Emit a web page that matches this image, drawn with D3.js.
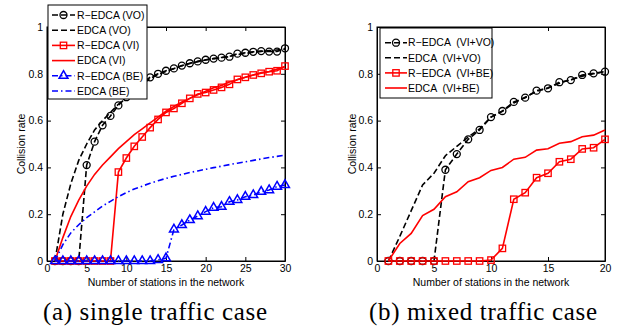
<!DOCTYPE html>
<html>
<head>
<meta charset="utf-8">
<script src="https://cdn.jsdelivr.net/npm/d3@7"></script>
<style>
body { margin: 0; background: #fff; }
svg text { font-family: "Liberation Sans", Arial, sans-serif; }
svg text.caption { font-family: "Liberation Serif", "DejaVu Serif", serif; }
</style>
</head>
<body>
<svg id="chart" width="627" height="332"></svg>
<script>
// ---- data ----
const stationsA = [1, 2, 3, 4, 5, 6, 7, 8, 9, 10, 11, 12, 13, 14, 15, 16, 17, 18, 19, 20, 21, 22, 23, 24, 25, 26, 27, 28, 29, 30];
const stationsB = [1, 2, 3, 4, 5, 6, 7, 8, 9, 10, 11, 12, 13, 14, 15, 16, 17, 18, 19, 20];

// (a) single traffic case
const rEdcaVO = [0, 0, 0, 0, 0.41, 0.51, 0.58, 0.62, 0.665, 0.70, 0.735, 0.76, 0.785, 0.80, 0.813, 0.823, 0.835, 0.845, 0.853, 0.86, 0.865, 0.869, 0.873, 0.886, 0.89, 0.894, 0.897, 0.895, 0.895, 0.909];
const edcaVO = [0, 0.2, 0.33, 0.43, 0.5, 0.56, 0.6, 0.635, 0.67, 0.70, 0.73, 0.755, 0.78, 0.797, 0.81, 0.822, 0.834, 0.844, 0.852, 0.859, 0.865, 0.87, 0.875, 0.882, 0.887, 0.892, 0.896, 0.899, 0.902, 0.905];
const rEdcaVI = [0, 0, 0, 0, 0, 0, 0, 0, 0.38, 0.44, 0.49, 0.53, 0.57, 0.605, 0.635, 0.652, 0.674, 0.695, 0.714, 0.72, 0.731, 0.742, 0.755, 0.776, 0.785, 0.795, 0.802, 0.809, 0.813, 0.833];
const edcaVI = [0, 0.1, 0.19, 0.26, 0.32, 0.37, 0.41, 0.445, 0.48, 0.51, 0.54, 0.565, 0.59, 0.615, 0.64, 0.66, 0.68, 0.695, 0.71, 0.725, 0.74, 0.75, 0.765, 0.775, 0.785, 0.795, 0.805, 0.81, 0.82, 0.83];
const rEdcaBE = [0, 0, 0, 0, 0, 0, 0, 0, 0, 0, 0, 0, 0, 0.005, 0.012, 0.135, 0.154, 0.175, 0.192, 0.211, 0.228, 0.232, 0.253, 0.261, 0.275, 0.282, 0.296, 0.303, 0.318, 0.325];
const edcaBE = [0, 0.07, 0.12, 0.155, 0.185, 0.21, 0.235, 0.255, 0.275, 0.292, 0.308, 0.32, 0.332, 0.343, 0.353, 0.362, 0.37, 0.378, 0.385, 0.392, 0.399, 0.405, 0.412, 0.418, 0.424, 0.43, 0.436, 0.442, 0.447, 0.453];

// (b) mixed traffic case
const rEdcaVIVO = [0, 0, 0, 0, 0, 0.39, 0.457, 0.52, 0.56, 0.615, 0.641, 0.68, 0.698, 0.728, 0.738, 0.764, 0.773, 0.795, 0.802, 0.809];
const edcaVIVO = [0, 0.105, 0.215, 0.325, 0.375, 0.45, 0.49, 0.53, 0.565, 0.615, 0.64, 0.675, 0.70, 0.725, 0.74, 0.76, 0.775, 0.79, 0.80, 0.81];
const rEdcaVIBE = [0, 0, 0, 0, 0, 0, 0, 0, 0, 0.004, 0.054, 0.264, 0.292, 0.356, 0.375, 0.424, 0.435, 0.479, 0.484, 0.52];
const edcaVIBE = [0, 0.075, 0.118, 0.194, 0.221, 0.275, 0.296, 0.339, 0.356, 0.387, 0.4, 0.435, 0.443, 0.474, 0.48, 0.503, 0.51, 0.531, 0.538, 0.56];

const xTicksA = [0, 5, 10, 15, 20, 25, 30];
const xTicksB = [0, 5, 10, 15, 20];
const yTicks = [0, 0.2, 0.4, 0.6, 0.8, 1];

const svg = d3.select("#chart");
svg.append("rect").attr("width", 627).attr("height", 332).attr("fill", "#fff");

const DASH = "6,3";
const DASHDOT = "6,3,1.5,3";

// draw one marker at (cx, cy)
function drawMarker(g, type, color, cx, cy) {
    if (type === "circle") {
        g.append("circle").attr("cx", cx).attr("cy", cy).attr("r", 3.5)
            .attr("fill", "none").attr("stroke", color).attr("stroke-width", 1.3);
    } else if (type === "square") {
        g.append("rect").attr("x", cx - 3.2).attr("y", cy - 3.2).attr("width", 6.4).attr("height", 6.4)
            .attr("fill", "none").attr("stroke", color).attr("stroke-width", 1.3);
    } else if (type === "triangle") {
        g.append("path").attr("transform", `translate(${cx},${cy})`)
            .attr("d", d3.symbol(d3.symbolTriangle, 34)())
            .attr("fill", "none").attr("stroke", color).attr("stroke-width", 1.5);
    }
}

function drawPanel(p) {
    const x = d3.scaleLinear().domain(p.xDomain).range([p.left, p.right]);
    const y = d3.scaleLinear().domain([0, 1]).range([261, 27]);
    const g = svg.append("g");
    const fmt = d3.format("~g");

    // axes, ticks pointing inwards like matlab
    g.append("g").attr("transform", "translate(0,261)")
        .call(d3.axisBottom(x).tickValues(p.xTicks).tickSizeInner(-4).tickSizeOuter(0).tickPadding(4).tickFormat(fmt));
    g.append("g").attr("transform", "translate(0,27)")
        .call(d3.axisTop(x).tickValues(p.xTicks).tickSizeInner(-4).tickSizeOuter(0).tickFormat(""));
    g.append("g").attr("transform", `translate(${p.left},0)`)
        .call(d3.axisLeft(y).tickValues(yTicks).tickSizeInner(-4).tickSizeOuter(0).tickPadding(4).tickFormat(fmt));
    g.append("g").attr("transform", `translate(${p.right},0)`)
        .call(d3.axisRight(y).tickValues(yTicks).tickSizeInner(-4).tickSizeOuter(0).tickFormat(""));
    g.selectAll(".tick text").attr("font-size", "10.5px").attr("fill", "#000");
    g.selectAll(".domain").attr("stroke", "#000");

    g.append("rect").attr("x", p.left).attr("y", 27)
        .attr("width", p.right - p.left).attr("height", 234)
        .attr("fill", "none").attr("stroke", "#000").attr("stroke-width", 1);

    // series
    const line = d3.line().x(d => x(d[0])).y(d => y(d[1]));
    p.series.forEach(s => {
        const pts = s.xs.map((v, i) => [v, s.ys[i]]);
        g.append("path").datum(pts)
            .attr("d", line)
            .attr("fill", "none")
            .attr("stroke", s.color)
            .attr("stroke-width", 1.6)
            .attr("stroke-dasharray", s.dash || null);
        if (s.marker) {
            pts.forEach(d => drawMarker(g, s.marker, s.color, x(d[0]), y(d[1])));
        }
    });

    // labels
    g.append("text").attr("x", (p.left + p.right) / 2).attr("y", 286)
        .attr("text-anchor", "middle").attr("font-size", "10.5px")
        .text("Number of stations in the network");
    g.append("text").attr("transform", `translate(${p.yLabelX},144) rotate(-90)`)
        .attr("text-anchor", "middle").attr("font-size", "10.5px")
        .text("Collision rate");
    g.append("text").attr("class", "caption")
        .attr("x", p.captionX).attr("y", 320)
        .attr("text-anchor", "middle")
        .attr("font-size", "25px")
        .attr("textLength", p.captionW).attr("lengthAdjust", "spacing")
        .text(p.caption);

    // legend
    const lg = p.legend;
    const leg = g.append("g");
    leg.append("rect").attr("x", lg.x0).attr("y", lg.y0).attr("width", lg.x1 - lg.x0).attr("height", lg.y1 - lg.y0)
        .attr("fill", "#fff").attr("stroke", "#000").attr("stroke-width", 1);
    p.series.forEach((s, i) => {
        const ly = lg.first + i * lg.step;
        leg.append("line").attr("x1", lg.s0).attr("x2", lg.s1).attr("y1", ly).attr("y2", ly)
            .attr("stroke", s.color).attr("stroke-width", 1.6).attr("stroke-dasharray", s.dash || null);
        if (s.marker) drawMarker(leg, s.marker, s.color, (lg.s0 + lg.s1) / 2, ly);
        leg.append("text").attr("x", lg.tx).attr("y", ly).attr("dy", "0.36em")
            .attr("font-size", "10.5px").style("white-space", "pre")
            .text(s.name);
    });
}

drawPanel({
    xDomain: [0, 30], left: 47, right: 285, xTicks: xTicksA, yLabelX: 25,
    caption: "(a) single traffic case", captionX: 155, captionW: 224,
    legend: { x0: 48, x1: 147, y0: 5, y1: 99, first: 15, step: 15.2, s0: 52, s1: 75, tx: 77 },
    series: [
        { name: "R\u2212EDCA (VO)", xs: stationsA, ys: rEdcaVO, color: "#000", dash: DASH, marker: "circle" },
        { name: "EDCA (VO)", xs: stationsA, ys: edcaVO, color: "#000", dash: DASH },
        { name: "R\u2212EDCA (VI)", xs: stationsA, ys: rEdcaVI, color: "#ff0000", marker: "square" },
        { name: "EDCA (VI)", xs: stationsA, ys: edcaVI, color: "#ff0000" },
        { name: "R\u2212EDCA (BE)", xs: stationsA, ys: rEdcaBE, color: "#0000ff", dash: DASHDOT, marker: "triangle" },
        { name: "EDCA (BE)", xs: stationsA, ys: edcaBE, color: "#0000ff", dash: DASHDOT }
    ]
});

drawPanel({
    xDomain: [0, 20], left: 377, right: 605, xTicks: xTicksB, yLabelX: 356,
    caption: "(b) mixed traffic case", captionX: 483, captionW: 228,
    legend: { x0: 380, x1: 492, y0: 28, y1: 98, first: 42.7, step: 15.1, s0: 385, s1: 407, tx: 408 },
    series: [
        { name: "R\u2212EDCA  (VI+VO)", xs: stationsB, ys: rEdcaVIVO, color: "#000", dash: DASH, marker: "circle" },
        { name: "EDCA  (VI+VO)", xs: stationsB, ys: edcaVIVO, color: "#000", dash: DASH },
        { name: "R\u2212EDCA  (VI+BE)", xs: stationsB, ys: rEdcaVIBE, color: "#ff0000", marker: "square" },
        { name: "EDCA  (VI+BE)", xs: stationsB, ys: edcaVIBE, color: "#ff0000" }
    ]
});
</script>
</body>
</html>
